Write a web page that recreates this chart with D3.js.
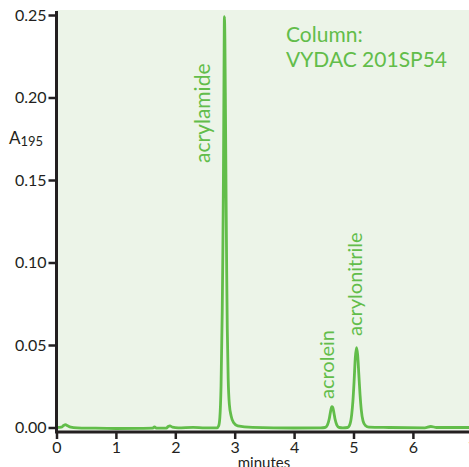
<!DOCTYPE html>
<html><head><meta charset="utf-8">
<script src="https://cdn.jsdelivr.net/npm/d3@7"></script>
<style>
body{margin:0;background:#fff;}
svg{display:block;}
text{font-family:Lato, "Noto Sans", sans-serif;}
</style></head>
<body>
<svg id="chart" width="469" height="467"></svg>
<script>
// ---- data ----
const xTicks = [0, 1, 2, 3, 4, 5, 6, 7];
const yTicks = [0.00, 0.05, 0.10, 0.15, 0.20, 0.25];
const traceTime = [0.00,0.08,0.12,0.15,0.19,0.24,0.35,0.6,1.0,1.4,1.62,1.65,1.68,1.85,1.88,1.91,1.95,2.05,2.3,2.5,2.70,2.73,2.75,2.77,2.79,2.80,2.81,2.82,2.827,2.835,2.845,2.855,2.865,2.875,2.89,2.91,2.94,2.98,3.05,3.3,4.0,4.45,4.52,4.56,4.59,4.61,4.63,4.64,4.65,4.67,4.69,4.72,4.76,4.82,4.90,4.94,4.97,4.99,5.01,5.03,5.05,5.07,5.09,5.11,5.13,5.16,5.20,5.26,5.6,6.2,6.3,6.4,7.0];
const traceAbs  = [0.0000,0.0002,0.0012,0.0018,0.0010,0.0002,-0.0002,-0.0004,-0.0006,-0.0005,-0.0004,0.0004,-0.0004,-0.0003,0.0006,0.0010,0.0002,-0.0002,0.0001,-0.0002,-0.0002,0.001,0.006,0.025,0.07,0.105,0.15,0.215,0.249,0.235,0.19,0.14,0.095,0.06,0.03,0.014,0.007,0.003,0.001,0.0001,-0.0003,-0.0002,0.0000,0.0015,0.005,0.009,0.0123,0.0127,0.0122,0.009,0.005,0.0015,0.0000,-0.0002,0.0000,0.002,0.008,0.016,0.028,0.042,0.0484,0.044,0.032,0.020,0.011,0.004,0.0012,0.0002,0.0000,-0.0002,0.0006,0.0000,0.0000];
const peakNames = ["acrylamide", "acrolein", "acrylonitrile"];
const peakTimes = [2.827, 4.64, 5.05];
const columnText = ["Column:", "VYDAC 201SP54"];

// ---- layout ----
const green = "#62bd4a";
const dark = "#231f20";
const svg = d3.select("#chart");
const x = d3.scaleLinear().domain([0, 7]).range([56.5, 472.3]);
const y = d3.scaleLinear().domain([0, 0.25]).range([427.5, 15]);

// plot background
svg.append("rect").attr("x", x(0)).attr("y", 10).attr("width", 469 - x(0)).attr("height", 431 - 10)
  .attr("fill", "#ecf4e8");

// trace
const pts = traceTime.map((t, i) => [t, traceAbs[i]]);
svg.append("path").datum(pts)
  .attr("fill", "none").attr("stroke", green).attr("stroke-width", 2.8)
  .attr("stroke-linejoin", "round")
  .attr("d", d3.line().x(d => x(d[0])).y(d => y(d[1])).curve(d3.curveMonotoneX));

// axes
const yAxis = d3.axisLeft(y).tickValues(yTicks).tickFormat(d3.format(".2f")).tickSize(8).tickPadding(2);
const gy = svg.append("g").attr("transform", `translate(${x(0)},0)`).call(yAxis);
const xAxis = d3.axisBottom(x).tickValues(xTicks).tickFormat(d3.format("d")).tickSize(7).tickPadding(3);
const gx = svg.append("g").attr("transform", `translate(0,432)`).call(xAxis);
[gx, gy].forEach(g => {
  g.select(".domain").remove();
  g.selectAll(".tick line").attr("stroke", dark).attr("stroke-width", 2.5);
  g.selectAll(".tick text").attr("fill", dark).style("font-size", "16px");
});
svg.append("path").attr("d", `M${x(0)},11V432H470`).attr("fill", "none")
  .attr("stroke", dark).attr("stroke-width", 3);

// axis titles
const yt = svg.append("text").attr("x", 9).attr("y", 144).attr("fill", dark).style("font-size", "17px");
yt.append("tspan").text("A");
yt.append("tspan").attr("dy", 2).style("font-size", "13px").text("195");
svg.append("text").attr("x", 264).attr("y", 468).attr("text-anchor", "middle").attr("fill", dark)
  .style("font-size", "15px").text("minutes");

// peak labels
const labelDx = [-14, 2, 6];
const labelY = [163, 399, 336];
const labelSize = [21, 20, 20];
peakNames.forEach((n, i) => {
  const lx = x(peakTimes[i]) + labelDx[i];
  svg.append("text").attr("transform", `translate(${lx},${labelY[i]}) rotate(-90)`)
    .attr("fill", green).style("font-size", labelSize[i] + "px").text(n);
});

// column annotation
columnText.forEach((t, i) => {
  svg.append("text").attr("x", 286).attr("y", 42 + i * 25).attr("fill", green)
    .style("font-size", "21px").text(t);
});
</script>
</body></html>
